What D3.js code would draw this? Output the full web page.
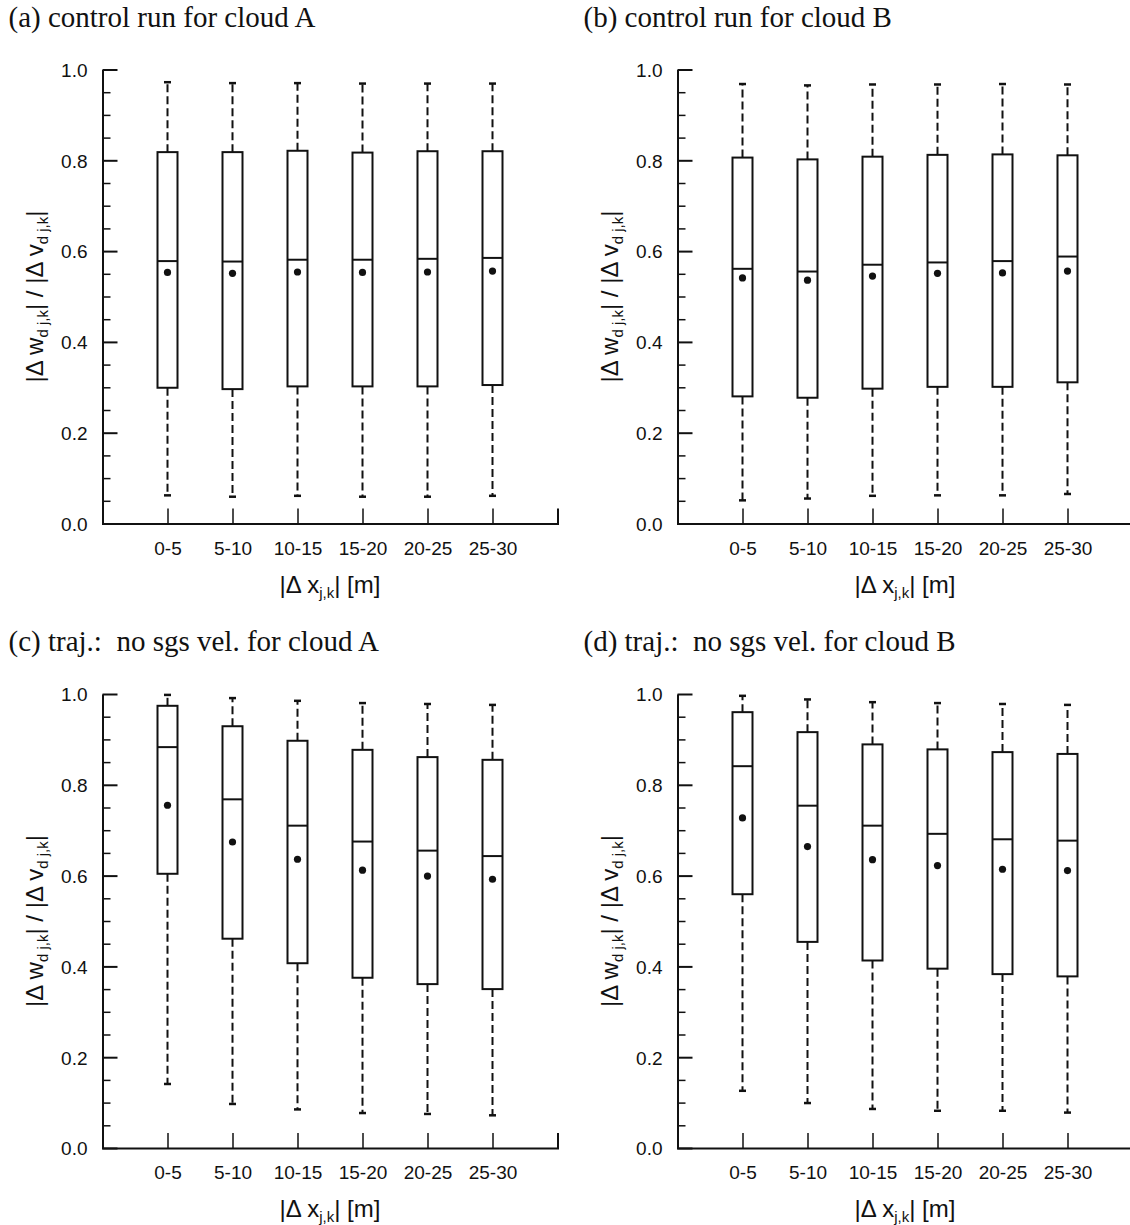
<!DOCTYPE html>
<html>
<head>
<meta charset="utf-8">
<script src="https://cdn.jsdelivr.net/npm/d3@7"></script>
<style>
  body { margin: 0; background: #fff; }
  svg { display: block; }
  .title { font-family: "Liberation Serif", serif; font-size: 29px; fill: #111; white-space: pre; }
  .tick text { font-family: "Liberation Sans", Arial, sans-serif; font-size: 19px; fill: #111; }
  .lab { font-family: "Liberation Sans", Arial, sans-serif; font-size: 24px; fill: #111; }
</style>
</head>
<body>
<svg id="chart" width="1130" height="1225"></svg>
<script>
// categories + panel titles
var categories = ['0-5', '5-10', '10-15', '15-20', '20-25', '25-30'];
var titles = [
  '(a) control run for cloud A',
  '(b) control run for cloud B',
  '(c) traj.:  no sgs vel. for cloud A',
  '(d) traj.:  no sgs vel. for cloud B'
];
var yMajor = [0, 0.2, 0.4, 0.6, 0.8, 1.0];

// (a) control run, cloud A
var lowA  = [0.062, 0.059, 0.061, 0.059, 0.059, 0.061];
var q1A   = [0.299, 0.296, 0.302, 0.302, 0.302, 0.305];
var medA  = [0.578, 0.577, 0.581, 0.581, 0.583, 0.585];
var q3A   = [0.818, 0.818, 0.821, 0.817, 0.820, 0.820];
var highA = [0.972, 0.970, 0.970, 0.969, 0.969, 0.969];
var meanA = [0.553, 0.551, 0.554, 0.553, 0.554, 0.556];

// (b) control run, cloud B
var lowB  = [0.051, 0.055, 0.061, 0.062, 0.062, 0.065];
var q1B   = [0.280, 0.277, 0.297, 0.301, 0.301, 0.311];
var medB  = [0.561, 0.555, 0.570, 0.575, 0.578, 0.588];
var q3B   = [0.806, 0.802, 0.808, 0.812, 0.813, 0.811];
var highB = [0.968, 0.965, 0.967, 0.967, 0.968, 0.967];
var meanB = [0.541, 0.536, 0.545, 0.551, 0.552, 0.556];

// (c) no sgs vel., cloud A
var lowC  = [0.141, 0.097, 0.085, 0.077, 0.075, 0.072];
var q1C   = [0.604, 0.461, 0.407, 0.375, 0.361, 0.350];
var medC  = [0.883, 0.768, 0.710, 0.675, 0.655, 0.643];
var q3C   = [0.974, 0.929, 0.897, 0.877, 0.861, 0.855];
var highC = [0.998, 0.991, 0.985, 0.980, 0.978, 0.976];
var meanC = [0.755, 0.674, 0.636, 0.612, 0.599, 0.592];

// (d) no sgs vel., cloud B
var lowD  = [0.126, 0.099, 0.086, 0.082, 0.082, 0.078];
var q1D   = [0.559, 0.454, 0.413, 0.395, 0.383, 0.378];
var medD  = [0.841, 0.754, 0.710, 0.692, 0.680, 0.677];
var q3D   = [0.960, 0.916, 0.889, 0.878, 0.872, 0.868];
var highD = [0.996, 0.988, 0.982, 0.980, 0.978, 0.976];
var meanD = [0.727, 0.664, 0.635, 0.622, 0.614, 0.611];

var panels = [
  {low: lowA, q1: q1A, med: medA, q3: q3A, high: highA, mean: meanA, left: 102.5, top: 69.5},
  {low: lowB, q1: q1B, med: medB, q3: q3B, high: highB, mean: meanB, left: 677.5, top: 69.5},
  {low: lowC, q1: q1C, med: medC, q3: q3C, high: highC, mean: meanC, left: 102.5, top: 694},
  {low: lowD, q1: q1D, med: medD, q3: q3D, high: highD, mean: meanD, left: 677.5, top: 694}
];

var w = 455, h = 454, boxW = 20, capW = 7;
var ink = '#111';

var x = d3.scalePoint().domain(categories).range([0, w]).padding(1);
var y = d3.scaleLinear().domain([0, 1]).range([h, 0]);

var svg = d3.select('#chart');

panels.forEach(function (p, pi) {
  var g = svg.append('g').attr('transform', 'translate(' + p.left + ',' + p.top + ')');

  // panel title
  svg.append('text')
    .attr('class', 'title')
    .attr('x', p.left - 94)
    .attr('y', p.top - 43)
    .text(titles[pi]);

  // minor y ticks
  var minors = d3.range(0, 21).map(function (i) { return i * 0.05; })
    .filter(function (v, i) { return i % 4 !== 0; });
  g.append('g')
    .call(d3.axisLeft(y).tickValues(minors).tickSize(-8).tickSizeOuter(0).tickFormat(''))
    .call(function (s) { s.select('.domain').remove(); })
    .selectAll('line').attr('stroke', ink).attr('stroke-width', 1.5);

  // major y axis
  var ya = g.append('g')
    .call(d3.axisLeft(y).tickValues(yMajor).tickSize(-15).tickSizeOuter(0)
      .tickPadding(15).tickFormat(d3.format('.1f')));
  ya.select('.domain').attr('stroke', ink).attr('stroke-width', 2);
  ya.selectAll('line').attr('stroke', ink).attr('stroke-width', 2);
  ya.selectAll('text').attr('dy', '0.36em');

  // x axis
  var xa = g.append('g')
    .attr('transform', 'translate(0,' + h + ')')
    .call(d3.axisBottom(x).tickSize(-15).tickSizeOuter(-15).tickPadding(18));
  xa.select('.domain').attr('stroke', ink).attr('stroke-width', 2).attr('fill', 'none');
  xa.selectAll('line').attr('stroke', ink).attr('stroke-width', 1.5);

  // boxes
  var idx = d3.range(categories.length);
  var b = g.selectAll('.box').data(idx).enter().append('g')
    .attr('class', 'box')
    .attr('transform', function (i) { return 'translate(' + x(categories[i]) + ',0)'; });

  // whiskers
  b.append('line')
    .attr('y1', function (i) { return y(p.q3[i]); })
    .attr('y2', function (i) { return y(p.high[i]); })
    .attr('stroke', ink).attr('stroke-width', 2).attr('stroke-dasharray', '8,4');
  b.append('line')
    .attr('y1', function (i) { return y(p.q1[i]); })
    .attr('y2', function (i) { return y(p.low[i]); })
    .attr('stroke', ink).attr('stroke-width', 2).attr('stroke-dasharray', '8,4');

  // caps
  ['high', 'low'].forEach(function (k) {
    b.append('line')
      .attr('x1', -capW / 2).attr('x2', capW / 2)
      .attr('y1', function (i) { return y(p[k][i]); })
      .attr('y2', function (i) { return y(p[k][i]); })
      .attr('stroke', ink).attr('stroke-width', 2.5);
  });

  b.append('rect')
    .attr('x', -boxW / 2).attr('width', boxW)
    .attr('y', function (i) { return y(p.q3[i]); })
    .attr('height', function (i) { return y(p.q1[i]) - y(p.q3[i]); })
    .attr('fill', '#fff').attr('stroke', ink).attr('stroke-width', 2);

  b.append('line')
    .attr('x1', -boxW / 2).attr('x2', boxW / 2)
    .attr('y1', function (i) { return y(p.med[i]); })
    .attr('y2', function (i) { return y(p.med[i]); })
    .attr('stroke', ink).attr('stroke-width', 2);

  b.append('circle')
    .attr('cy', function (i) { return y(p.mean[i]); })
    .attr('r', 3.6).attr('fill', ink);

  // x label
  var xl = g.append('text').attr('class', 'lab')
    .attr('x', w / 2).attr('y', h + 69).attr('text-anchor', 'middle');
  xl.append('tspan').text('|\u0394 x');
  xl.append('tspan').attr('dy', 5).attr('font-size', '15px').text('j,k');
  xl.append('tspan').attr('dy', -5).text('| [m]');

  // y label
  var yl = g.append('text').attr('class', 'lab')
    .attr('transform', 'translate(-60,' + (h / 2) + ') rotate(-90)')
    .attr('text-anchor', 'middle');
  yl.append('tspan').text('|\u0394 w');
  yl.append('tspan').attr('dy', 5).attr('font-size', '15px').text('d j,k');
  yl.append('tspan').attr('dy', -5).text('| / |\u0394 v');
  yl.append('tspan').attr('dy', 5).attr('font-size', '15px').text('d j,k');
  yl.append('tspan').attr('dy', -5).text('|');
});
</script>
</body>
</html>
